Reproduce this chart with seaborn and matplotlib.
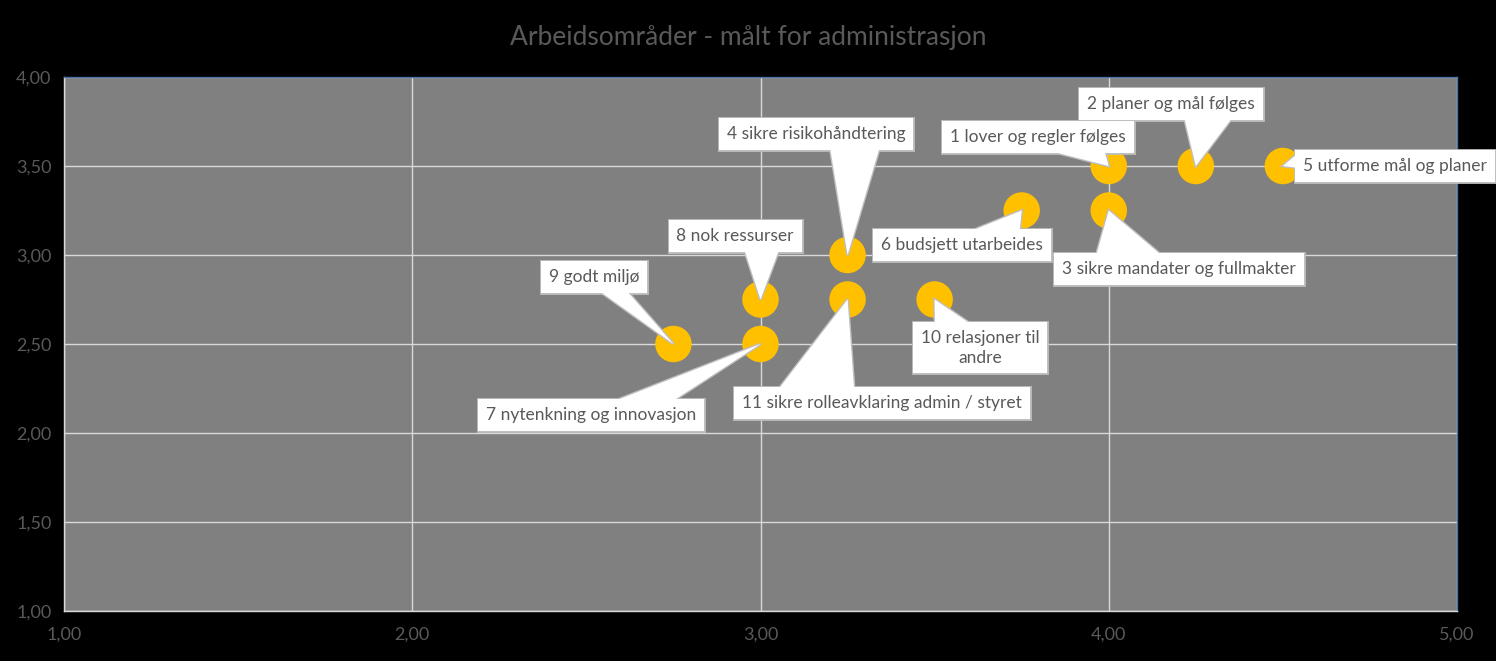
import matplotlib
matplotlib.use("Agg")
import matplotlib.pyplot as plt
import seaborn as sns
import pandas as pd
import numpy as np
from matplotlib.patches import Polygon
from matplotlib.ticker import FuncFormatter, MultipleLocator

# ---- data ----
labels = [
    "1 lover og regler følges",
    "2 planer og mål følges",
    "3 sikre mandater og fullmakter",
    "4 sikre risikohåndtering",
    "5 utforme mål og planer",
    "6 budsjett utarbeides",
    "7 nytenkning og innovasjon",
    "8 nok ressurser",
    "9 godt miljø",
    "10 relasjoner til\nandre",
    "11 sikre rolleavklaring admin / styret",
]
x_vals = [4.00, 4.25, 4.00, 3.25, 4.50, 3.75, 3.00, 3.00, 2.75, 3.50, 3.25]
y_vals = [3.50, 3.50, 3.25, 3.00, 3.50, 3.25, 2.50, 2.75, 2.50, 2.75, 2.75]

title = "Arbeidsområder - målt for administrasjon"

# ---- callout layout: box centres (data coords) and where the pointer leaves the box ----
label_x = [3.797, 4.179, 4.202, 3.159, 4.822, 3.579, 2.513, 2.927, 2.522, 3.630, 3.349]
label_y = [3.663, 3.848, 2.921, 3.680, 3.500, 3.056, 2.101, 3.107, 2.876, 2.478, 2.169]
pointer_side = ["bottom", "bottom", "top", "bottom", "left", "top",
                "top", "bottom", "bottom", "top", "top"]
pointer_pos = [0.725, 0.70, 0.295, 0.70, 0.64, 0.70, 0.75, 0.70, 0.70, 0.29, 0.28]

df = pd.DataFrame({"x": x_vals, "y": y_vals, "label": labels})

sns.set_theme(style="white")
plt.rcParams["font.family"] = ["Lato", "DejaVu Sans"]

DPI = 100
fig = plt.figure(figsize=(14.96, 6.61), dpi=DPI)
fig.patch.set_facecolor("black")
ax = fig.add_axes([64 / 1496, 1 - 611 / 661, (1457 - 64) / 1496, (611 - 77) / 661])
ax.set_facecolor("#808080")

sns.scatterplot(data=df, x="x", y="y", ax=ax, s=690, color="#FFC000",
                edgecolor="none", zorder=3, legend=False)

ax.set_xlim(1, 5)
ax.set_ylim(1, 4)
ax.xaxis.set_major_locator(MultipleLocator(1.0))
ax.yaxis.set_major_locator(MultipleLocator(0.5))
fmt = FuncFormatter(lambda v, p: f"{v:.2f}".replace(".", ","))
ax.xaxis.set_major_formatter(fmt)
ax.yaxis.set_major_formatter(fmt)
ax.grid(True, color="#d9d9d9", linewidth=1.0, zorder=0)
ax.set_axisbelow(True)
ax.tick_params(axis="both", colors="#595959", labelsize=13, length=0)
ax.tick_params(axis="x", pad=11)
ax.tick_params(axis="y", pad=9)
ax.set_xlabel("")
ax.set_ylabel("")
for side in ["left", "bottom"]:
    ax.spines[side].set_color("#d9d9d9")
    ax.spines[side].set_linewidth(1.0)
for side in ["top", "right"]:
    ax.spines[side].set_color("#4a6fa5")
    ax.spines[side].set_linewidth(1.0)

fig.text(0.5, 1 - 37 / 661, title, ha="center", va="center",
         color="#595959", fontsize=19)

fs = 12.5
EDGE = "#bfbfbf"
boxes = []
for i, lab in enumerate(labels):
    pair = []
    for layer in (0, 1):
        t = ax.text(
            label_x[i], label_y[i], lab,
            ha="center", va="center", multialignment="center",
            fontsize=fs, linespacing=1.25,
            color="none" if layer == 0 else "#595959",
            bbox=dict(boxstyle="square,pad=0.45", fc="white",
                      ec=EDGE if layer == 0 else "none",
                      lw=2.0 if layer == 0 else 0),
            zorder=4.0 if layer == 0 else 4.6,
            clip_on=False,
        )
        pair.append(t)
    boxes.append(pair)

# pointers: triangle from a share of the box side to the data point
fig.canvas.draw()
renderer = fig.canvas.get_renderer()
inv = ax.transData.inverted()
for i, pair in enumerate(boxes):
    bb = pair[1].get_bbox_patch().get_window_extent(renderer)
    side = pointer_side[i]
    pos = pointer_pos[i]
    if side in ("bottom", "top"):
        yb = bb.y0 if side == "bottom" else bb.y1
        cx = bb.x0 + pos * bb.width
        half = 0.125 * bb.width
        base = [(cx - half, yb), (cx + half, yb)]
    else:
        xb = bb.x0 if side == "left" else bb.x1
        cy = bb.y0 + pos * bb.height
        half = 0.19 * bb.height
        base = [(xb, cy - half), (xb, cy + half)]
    tip = ax.transData.transform((x_vals[i], y_vals[i]))
    pts = inv.transform(np.array([base[0], tip, base[1]]))
    ax.add_patch(Polygon(pts, closed=True, fc="white", ec=EDGE, lw=2.0,
                         joinstyle="miter", zorder=4.2, clip_on=False))
    ax.add_patch(Polygon(pts, closed=True, fc="white", ec="none", lw=0,
                         zorder=4.4, clip_on=False))

fig.savefig("out.png", dpi=DPI, facecolor=fig.get_facecolor())
